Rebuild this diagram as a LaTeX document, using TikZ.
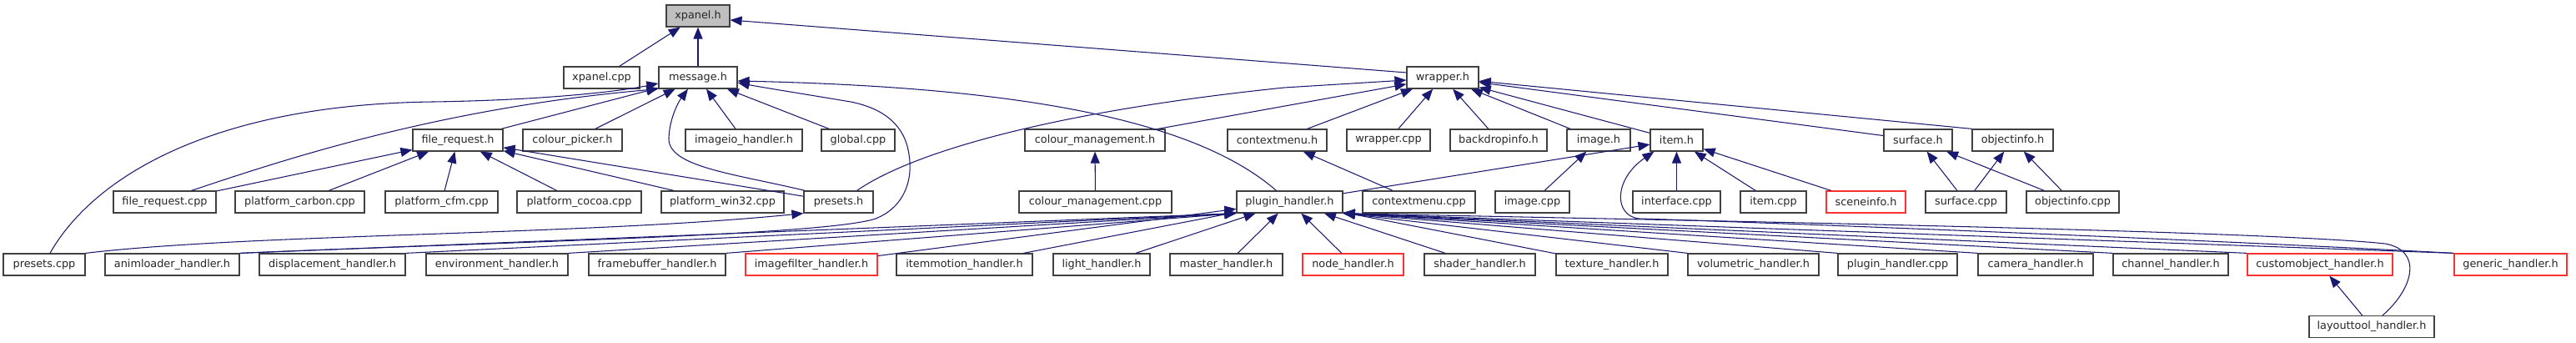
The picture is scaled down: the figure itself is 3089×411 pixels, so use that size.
\documentclass[tikz,border=0pt]{standalone}
\usepackage{fontspec}
\setmainfont{DejaVu Sans}
\usetikzlibrary{arrows.meta,calc}
\definecolor{edgec}{HTML}{191970}
\definecolor{boxc}{HTML}{404040}
\definecolor{redc}{HTML}{FF3030}
\definecolor{grayf}{HTML}{BFBFBF}
\begin{document}
\begin{tikzpicture}[x=0.02cm,y=-0.02cm,
  nd/.style={draw=boxc, line width=0.7pt, rectangle, inner sep=0pt, minimum height=0.52cm,
     font=\fontsize{7.3}{8.7}\selectfont, text=black!85, fill=white},
  rd/.style={nd, draw=redc},
  e/.style={draw=edgec, line width=0.6pt, -{Triangle[length=0.28cm,width=0.22cm]}}]
\useasboundingbox[fill=white] (0,0) rectangle (3089,411);
% row 1
\node[nd, fill=grayf, minimum width=1.52cm] (xpanelh) at (837,19) {xpanel.h};
% row 2
\node[nd, minimum width=1.82cm] (xpanelcpp) at (721.5,93) {xpanel.cpp};
\node[nd, minimum width=1.88cm] (messageh) at (837,93) {message.h};
\node[nd, minimum width=1.72cm] (wrapperh) at (1730,93) {wrapper.h};
% row 3
\node[nd, minimum width=2.16cm] (filerequesth) at (549,168) {file\_request.h};
\node[nd, minimum width=2.38cm] (colourpickerh) at (686.5,168) {colour\_picker.h};
\node[nd, minimum width=2.80cm] (imageioh) at (892,168) {imageio\_handler.h};
\node[nd, minimum width=1.76cm] (globalcpp) at (1029,168) {global.cpp};
\node[nd, minimum width=3.36cm] (colourmgmth) at (1313,168) {colour\_management.h};
\node[nd, minimum width=2.38cm] (contextmenuh) at (1531.5,168) {contextmenu.h};
\node[nd, minimum width=2.00cm] (wrappercpp) at (1665,168) {wrapper.cpp};
\node[nd, minimum width=2.32cm] (backdropinfoh) at (1797,168) {backdropinfo.h};
\node[nd, minimum width=1.52cm] (imageh) at (1917,168) {image.h};
\node[nd, minimum width=1.26cm] (itemh) at (2010.5,168) {item.h};
\node[nd, minimum width=1.64cm] (surfaceh) at (2300,168) {surface.h};
\node[nd, minimum width=1.94cm] (objectinfoh) at (2413.5,168) {objectinfo.h};
% row 4
\node[nd, minimum width=2.46cm] (filerequestcpp) at (197.5,242) {file\_request.cpp};
\node[nd, minimum width=3.10cm] (carboncpp) at (359.5,242) {platform\_carbon.cpp};
\node[nd, minimum width=2.70cm] (cfmcpp) at (529.5,242) {platform\_cfm.cpp};
\node[nd, minimum width=2.98cm] (cocoacpp) at (694.5,242) {platform\_cocoa.cpp};
\node[nd, minimum width=2.94cm] (win32cpp) at (866.5,242) {platform\_win32.cpp};
\node[nd, minimum width=1.66cm] (presetsh) at (1005.5,242) {presets.h};
\node[nd, minimum width=3.66cm] (colourmgmtcpp) at (1313.5,242) {colour\_management.cpp};
\node[nd, minimum width=2.54cm] (pluginh) at (1546.5,242) {plugin\_handler.h};
\node[nd, minimum width=2.70cm] (contextmenucpp) at (1701.5,242) {contextmenu.cpp};
\node[nd, minimum width=1.78cm] (imagecpp) at (1837.5,242) {image.cpp};
\node[nd, minimum width=2.10cm] (interfacecpp) at (2010.5,242) {interface.cpp};
\node[nd, minimum width=1.58cm] (itemcpp) at (2126.5,242) {item.cpp};
\node[rd, minimum width=1.90cm] (sceneinfoh) at (2237.5,242) {sceneinfo.h};
\node[nd, minimum width=1.94cm] (surfacecpp) at (2357.5,242) {surface.cpp};
\node[nd, minimum width=2.22cm] (objectinfocpp) at (2485.5,242) {objectinfo.cpp};
% row 5
\node[nd, minimum width=1.96cm] (presetscpp) at (53,317) {presets.cpp};
\node[nd, minimum width=3.22cm] (animloader) at (206.5,317) {animloader\_handler.h};
\node[nd, minimum width=3.50cm] (displacement) at (398.5,317) {displacement\_handler.h};
\node[nd, minimum width=3.40cm] (environment) at (596,317) {environment\_handler.h};
\node[nd, minimum width=3.28cm] (framebuffer) at (788,317) {framebuffer\_handler.h};
\node[rd, minimum width=3.16cm] (imagefilter) at (973,317) {imagefilter\_handler.h};
\node[nd, minimum width=3.26cm] (itemmotion) at (1156.5,317) {itemmotion\_handler.h};
\node[nd, minimum width=2.32cm] (light) at (1321,317) {light\_handler.h};
\node[nd, minimum width=2.70cm] (master) at (1470.5,317) {master\_handler.h};
\node[rd, minimum width=2.42cm] (nodeh) at (1622.5,317) {node\_handler.h};
\node[nd, minimum width=2.66cm] (shader) at (1774.5,317) {shader\_handler.h};
\node[nd, minimum width=2.68cm] (texture) at (1933,317) {texture\_handler.h};
\node[nd, minimum width=3.14cm] (volumetric) at (2102.5,317) {volumetric\_handler.h};
\node[nd, minimum width=2.86cm] (plugincpp) at (2275.5,317) {plugin\_handler.cpp};
\node[nd, minimum width=2.76cm] (camera) at (2441,317) {camera\_handler.h};
\node[nd, minimum width=2.76cm] (channel) at (2603,317) {channel\_handler.h};
\node[rd, minimum width=3.48cm] (customobject) at (2782,317) {customobject\_handler.h};
\node[rd, minimum width=2.70cm] (generic) at (3010.5,317) {generic\_handler.h};
% row 6
\node[nd, minimum width=3.00cm] (layouttool) at (2844,391.5) {layouttool\_handler.h};

% ---- edges ----
\draw[e] (xpanelcpp) -- (xpanelh);
\draw[e] (messageh) -- (xpanelh);
\draw[e] ($(wrapperh.west)+(0,-6)$) -- ($(xpanelh.east)+(0,5)$);

\draw[e] (filerequesth) -- (messageh);
\draw[e] (colourpickerh) -- (messageh);
\draw[e] (imageioh) -- (messageh);
\draw[e] (globalcpp) -- (messageh);
\draw[e] ($(presetsh.north west)+(2,0)$) .. controls (880,208) and (800,200) .. (802,165)
   .. controls (803,140) and (815,120) .. ($(messageh.south)+(-12,0)$);
\draw[e] ($(filerequestcpp.north)+(32,0)$) .. controls (330,195) and (520,130) .. (messageh.south west);
\draw[e] ($(presetscpp.north)+(7,0)$) .. controls (110,215) and (250,125) .. (520,122)
   .. controls (650,120) and (740,110) .. ($(messageh.west)+(0,7)$);
\draw[e] ($(pluginh.north)+(-16,0)$) .. controls (1440,150) and (1250,105) .. ($(messageh.east)+(0,4)$);
\draw[e] (animloader.north east) .. controls (600,290) and (990,282) .. (1050,262)
   .. controls (1085,248) and (1095,215) .. (1090,185)
   .. controls (1085,150) and (1060,130) .. (1020,122)
   .. controls (960,112) and (910,104) .. ($(messageh.east)+(0,6)$);

\draw[e] ($(presetsh.north east)+(-20,0)$) .. controls (1090,185) and (1250,135) .. (1540,105)
   -- ($(wrapperh.west)+(0,3)$);
\draw[e] (colourmgmth) -- (wrapperh);
\draw[e] (contextmenuh) -- (wrapperh);
\draw[e] (wrappercpp) -- (wrapperh);
\draw[e] (backdropinfoh) -- (wrapperh);
\draw[e] (imageh) -- (wrapperh);
\draw[e] (itemh) -- (wrapperh);
\draw[e] (surfaceh) -- (wrapperh);
\draw[e] (objectinfoh.north west) -- (wrapperh);

\draw[e] (colourmgmtcpp) -- (colourmgmth);
\draw[e] (contextmenucpp) -- (contextmenuh);
\draw[e] (imagecpp) -- (imageh);

\draw[e] (pluginh) -- (itemh);
\draw[e] (interfacecpp) -- (itemh);
\draw[e] (itemcpp) -- (itemh);
\draw[e] (sceneinfoh) -- (itemh);
\draw[e] (generic.north west) .. controls (2600,285) and (2100,266) .. (1965,262)
   .. controls (1935,258) and (1935,215) .. ($(itemh.south west)+(5,0)$);

\draw[e] (surfacecpp) -- (surfaceh);
\draw[e] (surfacecpp) -- (objectinfoh);
\draw[e] (objectinfocpp) -- (surfaceh);
\draw[e] (objectinfocpp) -- (objectinfoh);

\draw[e] (filerequestcpp) -- (filerequesth);
\draw[e] (carboncpp) -- (filerequesth);
\draw[e] (cfmcpp) -- (filerequesth);
\draw[e] (cocoacpp) -- (filerequesth);
\draw[e] (win32cpp) -- (filerequesth);
\draw[e] (presetsh) -- (filerequesth);

\draw[e] (presetscpp.north east) .. controls (300,280) and (700,282) .. (presetsh.south west);

\draw[e] (animloader.north east) -- (pluginh.south west);
\draw[e] (displacement.north east) -- (pluginh.south west);
\draw[e] (environment.north east) -- (pluginh.south west);
\draw[e] (framebuffer.north east) -- (pluginh.south west);
\draw[e] (imagefilter) -- (pluginh);
\draw[e] (itemmotion) -- (pluginh);
\draw[e] (light) -- (pluginh);
\draw[e] (master) -- (pluginh);
\draw[e] (nodeh) -- (pluginh);
\draw[e] (shader) -- (pluginh);
\draw[e] (texture) -- (pluginh);
\draw[e] (volumetric.north west) -- (pluginh.south east);
\draw[e] (plugincpp.north west) -- (pluginh.south east);
\draw[e] (camera.north west) -- (pluginh.south east);
\draw[e] (channel.north west) -- (pluginh.south east);
\draw[e] (customobject.north west) -- (pluginh.south east);
\draw[e] (generic.north west) -- (pluginh.south east);
\draw[e] ($(layouttool.north)+(13,0)$) .. controls (2895,345) and (2905,300) .. (2860,292)
   .. controls (2700,275) and (1900,262) .. (pluginh.south east);
\draw[e] (layouttool) -- (customobject);
\end{tikzpicture}
\end{document}
